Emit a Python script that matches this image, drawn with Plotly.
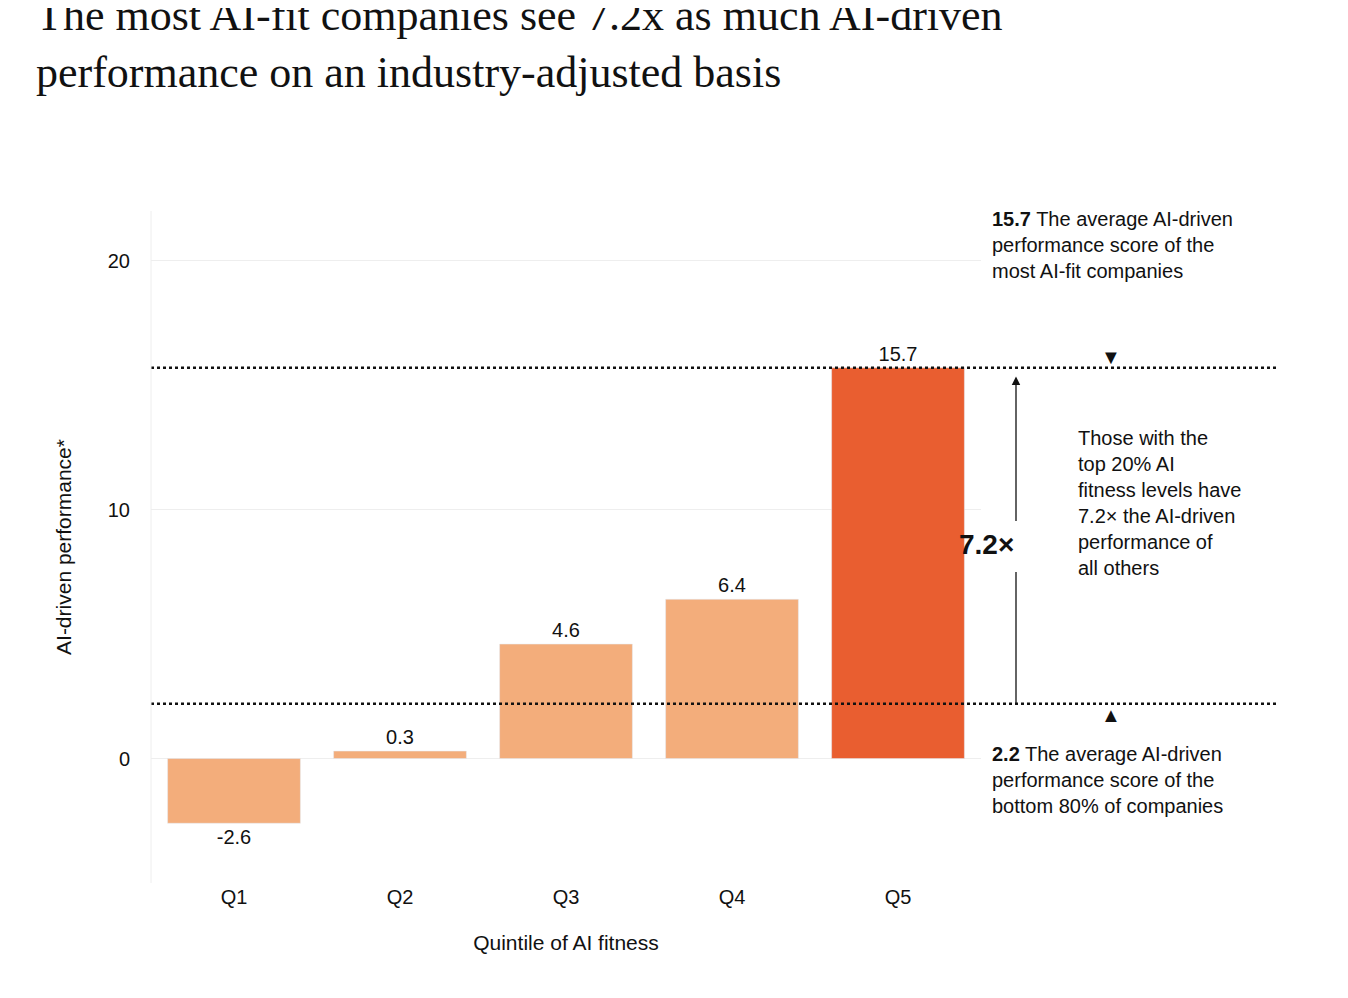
import plotly.graph_objects as go

quintiles = ["Q1", "Q2", "Q3", "Q4", "Q5"]
values = [-2.6, 0.3, 4.6, 6.4, 15.7]
colors = ["#F3AD7B", "#F3AD7B", "#F3AD7B", "#F3AD7B", "#E95E30"]
top_avg = 15.7
bottom_avg = 2.2
multiple = "7.2×"

FONT = "Liberation Sans, Arial, sans-serif"
L, R, T, B = 143, 973, 203, 875
def px(x): return (x - L) / (R - L)
def py(y): return (B - y) / (B - T)

fig = go.Figure(go.Bar(
    x=quintiles, y=values, marker_color=colors, width=0.8,
    text=[f"{v}" for v in values], textposition="outside",
    textfont=dict(size=20, color="#111", family=FONT), cliponaxis=False,
))

shapes = []
for v in (top_avg, bottom_avg):
    shapes.append(dict(type="line", xref="paper", yref="y", x0=0, x1=px(1268), y0=v, y1=v,
                       line=dict(color="#111", width=2.5, dash="dot")))
shapes.append(dict(type="line", xref="paper", yref="y", x0=px(1008), x1=px(1008), y0=bottom_avg, y1=7.5,
                   line=dict(color="#111", width=1.3)))
shapes.append(dict(type="line", xref="paper", yref="y", x0=0, x1=0, y0=-5, y1=22,
                   line=dict(color="#eee", width=1)))

ann = [
    dict(xref="paper", yref="y", x=px(1008), y=top_avg - 0.35, ax=0, ay=146,
         showarrow=True, arrowhead=2, arrowsize=1.3, arrowwidth=1.3, arrowcolor="#111", text=""),
    dict(xref="paper", yref="y", x=px(1008), y=8.6, text=f"<b>{multiple}</b>", showarrow=False,
         font=dict(size=28, family=FONT, color="#111")),
    dict(xref="paper", yref="paper", x=px(982), y=py(198), xanchor="left", yanchor="top", align="left",
         showarrow=False, font=dict(size=20, family=FONT, color="#111"),
         text=f"<b>{top_avg}</b> The average AI-driven<br>performance score of the<br>most AI-fit companies"),
    dict(xref="paper", yref="paper", x=px(982), y=py(733), xanchor="left", yanchor="top", align="left",
         showarrow=False, font=dict(size=20, family=FONT, color="#111"),
         text=f"<b>{bottom_avg}</b> The average AI-driven<br>performance score of the<br>bottom 80% of companies"),
    dict(xref="paper", yref="paper", x=px(1068), y=py(417), xanchor="left", yanchor="top", align="left",
         showarrow=False, font=dict(size=20, family=FONT, color="#111"),
         text="Those with the<br>top 20% AI<br>fitness levels have<br>7.2× the AI-driven<br>performance of<br>all others"),
    dict(xref="paper", yref="paper", x=px(1115), y=py(336), text="▼", showarrow=False,
         font=dict(size=20, color="#111")),
    dict(xref="paper", yref="paper", x=px(1115), y=py(720), text="▲", showarrow=False,
         font=dict(size=20, color="#111")),
]

fig.update_layout(
    width=1348, height=998, plot_bgcolor="white", paper_bgcolor="white",
    margin=dict(l=L, r=1348 - R, t=T, b=998 - B),
    showlegend=False, shapes=shapes, annotations=ann,
    font=dict(family=FONT, color="#111", size=20),
    title=dict(text="The most AI-fit companies see 7.2x as much AI-driven<br>performance on an industry-adjusted basis",
               x=28 / 1348, xanchor="left", y=1 - 22 / 998, yanchor="top",
               font=dict(family="Liberation Serif, Georgia, serif", size=44, color="#111")),
    xaxis=dict(title=dict(text="Quintile of AI fitness", font=dict(size=21), standoff=28),
               tickfont=dict(size=20), showline=False, ticks="", ticklen=0),
    yaxis=dict(title=dict(text="AI-driven performance*", font=dict(size=21), standoff=30),
               range=[-5, 22], tickvals=[0, 10, 20], showgrid=True, gridcolor="#eee",
               zeroline=False, tickfont=dict(size=20), ticklabelstandoff=20),
)
fig.write_html("out.html")
